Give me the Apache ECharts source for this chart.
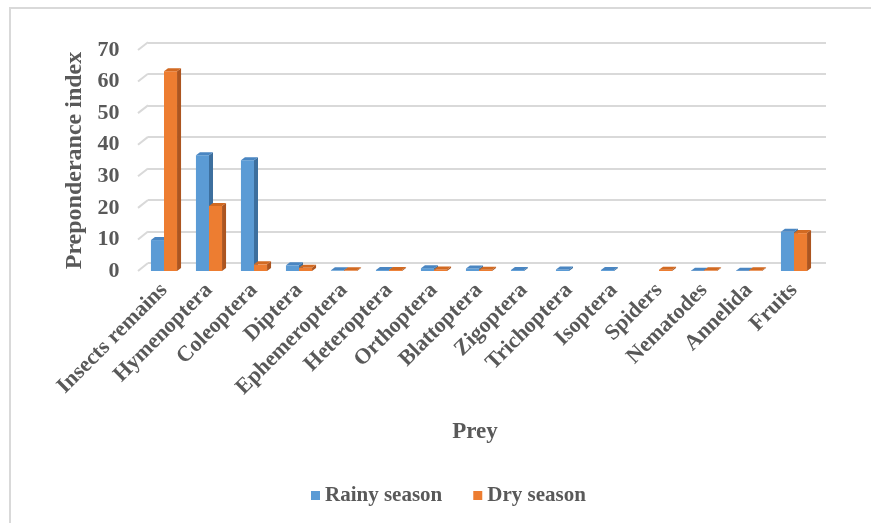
<!DOCTYPE html>
<html>
<head>
<meta charset="utf-8">
<script src="https://cdn.jsdelivr.net/npm/echarts@6/dist/echarts.min.js"></script>
<style>
  html, body { margin: 0; padding: 0; background: #ffffff; }
  #chart { width: 871px; height: 523px; }
</style>
</head>
<body>
<div id="chart"></div>
<script>
// Prey categories and preponderance index per season
const categories = ['Insects remains', 'Hymenoptera', 'Coleoptera', 'Diptera', 'Ephemeroptera',
  'Heteroptera', 'Orthoptera', 'Blattoptera', 'Zigoptera', 'Trichoptera', 'Isoptera',
  'Spiders', 'Nematodes', 'Annelida', 'Fruits'];
const rainySeason = [9.8, 36.7, 35.1, 1.8, 0.2, 0.3, 0.9, 0.8, 0.3, 0.5, 0.3, 0, 0.1, 0.1, 12.4];
const drySeason = [63.3, 20.6, 2.1, 1.0, 0.2, 0.3, 0.5, 0.4, 0, 0, 0, 0.4, 0.2, 0.2, 12.0];
const yMin = 0, yMax = 70, yStep = 10;

const TEXT = '#595959';
const FONT = 'Liberation Serif';
const GRID_LINE = '#d9d9d9';

// Face colours for the pseudo-3D columns
const rainyFaces = { front: '#5b9bd5', side: '#3d6f9e', top: '#4a86c2' };
const dryFaces = { front: '#ed7d31', side: '#ac5520', top: '#d26a22' };

// Column depth offsets (px)
const DX = 4, DY = 3;

function columnRenderer(sideSign, faces) {
  return function (params, api) {
    const v = api.value(1);
    if (!v) return;
    const cat = api.value(0);
    const top = api.coord([cat, v]);
    const base = api.coord([cat, 0]);
    const band = api.size([1, 0])[0];
    const w = band * 0.29;
    const x0 = sideSign < 0 ? top[0] - w : top[0];
    const x1 = x0 + w;
    const yt = top[1], yb = base[1];
    return {
      type: 'group',
      children: [
        { type: 'rect', shape: { x: x0, y: yt, width: w, height: yb - yt }, style: { fill: faces.front } },
        { type: 'polygon', shape: { points: [[x1, yt], [x1 + DX, yt - DY], [x1 + DX, yb - DY], [x1, yb]] },
          style: { fill: faces.side } },
        { type: 'polygon', shape: { points: [[x0, yt], [x0 + DX, yt - DY], [x1 + DX, yt - DY], [x1, yt]] },
          style: { fill: faces.top } }
      ]
    };
  };
}

const chart = echarts.init(document.getElementById('chart'), null, { renderer: 'canvas' });

const labelStyle = { color: TEXT, fontFamily: FONT, fontWeight: 'bold' };

const option = {
  backgroundColor: '#ffffff',
  animation: false,
  grid: [
    // front plane: columns and axis labels
    { left: 141.5, right: 54.5, top: 50, bottom: 252 },
    // back wall: gridlines
    { left: 148, right: 45, top: 42.3, bottom: 260 }
  ],
  legend: {
    data: [
      { name: 'Rainy season', icon: 'rect', itemStyle: { color: rainyFaces.front } },
      { name: 'Dry season', icon: 'rect', itemStyle: { color: dryFaces.front } }
    ],
    left: 306,
    top: 480,
    itemWidth: 9,
    itemHeight: 9,
    itemGap: 31,
    textStyle: Object.assign({ fontSize: 21 }, labelStyle)
  },
  xAxis: [
    {
      type: 'category', gridIndex: 0, data: categories,
      axisLine: { show: false }, axisTick: { show: false }, splitLine: { show: false },
      axisLabel: Object.assign({ rotate: 45, fontSize: 22, margin: 16, interval: 0 }, labelStyle),
      name: 'Prey', nameLocation: 'middle', nameGap: 150,
      nameTextStyle: Object.assign({ fontSize: 23, padding: [0, 8, 0, 0] }, labelStyle)
    },
    { type: 'category', gridIndex: 1, data: categories, show: false }
  ],
  yAxis: [
    {
      type: 'value', gridIndex: 0, min: yMin, max: yMax, interval: yStep,
      axisLine: { show: false }, axisTick: { show: false }, splitLine: { show: false },
      axisLabel: Object.assign({ fontSize: 22, margin: 22 }, labelStyle),
      name: 'Preponderance index', nameLocation: 'middle', nameGap: 50, nameRotate: 90,
      nameTextStyle: Object.assign({ fontSize: 24 }, labelStyle)
    },
    {
      type: 'value', gridIndex: 1, min: yMin, max: yMax, interval: yStep,
      axisLine: { show: false }, axisTick: { show: false }, axisLabel: { show: false },
      splitLine: { show: true, lineStyle: { color: GRID_LINE, width: 2 } }
    }
  ],
  series: [
    {
      name: 'Rainy season', type: 'custom', xAxisIndex: 0, yAxisIndex: 0,
      itemStyle: { color: rainyFaces.front },
      encode: { x: 0, y: 1 },
      data: categories.map((c, i) => [i, rainySeason[i]]),
      renderItem: columnRenderer(-1, rainyFaces)
    },
    {
      name: 'Dry season', type: 'custom', xAxisIndex: 0, yAxisIndex: 0,
      itemStyle: { color: dryFaces.front },
      encode: { x: 0, y: 1 },
      data: categories.map((c, i) => [i, drySeason[i]]),
      renderItem: columnRenderer(1, dryFaces)
    }
  ]
};

chart.setOption(option);

// Perspective connectors from the front plane to the back-wall gridlines, plus the chart frame
const connectors = [];
for (let v = yMin; v <= yMax; v += yStep) {
  const yf = chart.convertToPixel({ yAxisIndex: 0 }, v);
  const yb = chart.convertToPixel({ yAxisIndex: 1 }, v);
  connectors.push({
    type: 'line', silent: true, z: -1,
    shape: { x1: 138, y1: yf, x2: 148, y2: yb },
    style: { stroke: GRID_LINE, lineWidth: 2 }
  });
}
connectors.push({
  type: 'rect', silent: true,
  shape: { x: 10, y: 8, width: 900, height: 600 },
  style: { fill: 'none', stroke: GRID_LINE, lineWidth: 2 }
});
chart.setOption({ graphic: connectors });
</script>
</body>
</html>
